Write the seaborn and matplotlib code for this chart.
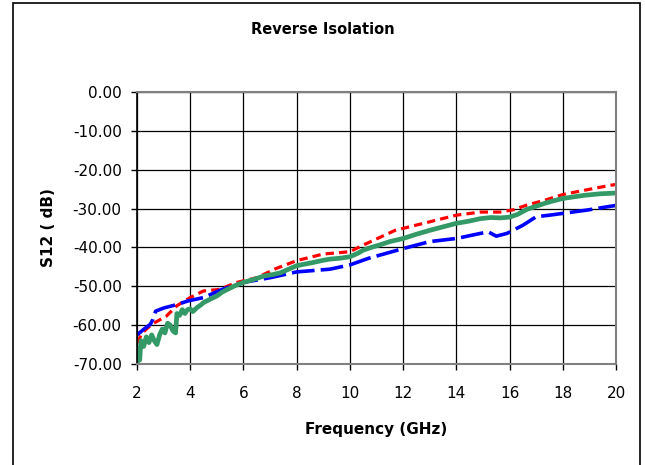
import numpy as np
import pandas as pd
import matplotlib
matplotlib.use("Agg")
import matplotlib.pyplot as plt
import seaborn as sns
from matplotlib.patches import Rectangle

# ── data ────────────────────────────────────────────────────
freq_red = [2.0, 2.2, 2.55, 3.1, 3.5, 4.0, 4.5, 5.1, 5.75, 6.5, 7.2, 8.0, 9.0,
            10.0, 10.5, 11.7, 13.0, 14.0, 14.9, 15.65, 16.15, 16.65, 17.3,
            18.0, 18.8, 19.8, 20.0]
s12_red = [-64.6, -62.0, -59.8, -57.7, -55.0, -52.9, -51.2, -50.8, -49.0,
           -47.8, -45.5, -43.4, -41.7, -41.1, -39.4, -35.6, -33.4, -31.7,
           -30.9, -30.9, -30.3, -29.1, -27.9, -26.4, -25.3, -24.0, -23.8]

freq_blue = [2.0, 2.25, 2.5, 2.6, 2.7, 3.0, 3.5, 3.9, 4.5, 5.2, 6.0, 7.0, 8.0,
             9.25, 10.0, 10.7, 12.0, 13.0, 14.0, 14.9, 15.2, 15.5, 15.9,
             16.5, 17.0, 17.5, 18.15, 18.9, 19.8, 20.0]
s12_blue = [-62.5, -61.1, -59.8, -58.5, -56.4, -55.6, -54.7, -53.8, -52.9,
            -50.8, -49.0, -47.8, -46.3, -45.6, -44.5, -42.8, -40.3, -38.5,
            -37.7, -36.4, -36.0, -37.1, -36.4, -34.3, -32.1, -31.7, -31.1,
            -30.4, -29.4, -29.2]

freq_green = [2.0, 2.05, 2.1, 2.15, 2.25, 2.35, 2.45, 2.55, 2.65, 2.75, 2.85,
              2.95, 3.05, 3.15, 3.25, 3.35, 3.45, 3.5, 3.6, 3.7, 3.8, 3.9,
              4.0, 4.1, 4.25, 4.4, 4.5, 4.7, 5.0, 5.2, 5.4, 5.7, 6.0, 6.4,
              6.8, 7.1, 7.4, 7.7, 8.0, 8.3, 8.6, 9.0, 9.25, 9.6, 10.0, 10.3,
              10.5, 10.8, 11.1, 11.5, 12.0, 12.5, 13.0, 13.5, 14.0, 14.5,
              14.9, 15.3, 15.65, 16.0, 16.3, 16.65, 17.0, 17.3, 17.6, 18.0,
              18.4, 18.8, 19.4, 20.0]
s12_green = [-70.0, -66.0, -69.0, -64.0, -65.5, -63.0, -64.5, -62.5, -64.0,
             -65.0, -62.5, -61.0, -62.0, -59.5, -60.0, -61.5, -62.0, -57.0,
             -57.5, -56.0, -57.0, -56.0, -55.8, -56.5, -55.5, -54.8, -54.2,
             -53.5, -52.5, -51.5, -50.8, -49.8, -49.0, -48.2, -47.3, -47.0,
             -46.5, -45.6, -44.7, -44.3, -43.9, -43.3, -43.0, -42.8, -42.4,
             -41.5, -40.7, -40.0, -39.4, -38.5, -37.7, -36.6, -35.6, -34.7,
             -33.8, -33.2, -32.6, -32.3, -32.4, -32.2, -31.5, -30.2, -29.4,
             -28.7, -28.1, -27.4, -27.0, -26.6, -26.2, -26.0]

xticks = [2, 4, 6, 8, 10, 12, 14, 16, 18, 20]
yticks = [0, -10, -20, -30, -40, -50, -60, -70]

# ── style ───────────────────────────────────────────────────
sns.set_style("white")
plt.rcParams["font.family"] = ["DejaVu Sans"]
plt.rcParams["text.color"] = "black"
plt.rcParams["axes.labelcolor"] = "black"
plt.rcParams["xtick.color"] = "black"
plt.rcParams["ytick.color"] = "black"

fig = plt.figure(figsize=(6.45, 4.65), dpi=100)
ax = fig.add_axes([137 / 645, 1 - 364 / 465, 479 / 645, 272 / 465])

sns.lineplot(x=freq_red, y=s12_red, ax=ax, color="#FF0000", linewidth=2.3,
             linestyle=(0, (2.6, 1.6)), sort=False)
sns.lineplot(x=freq_blue, y=s12_blue, ax=ax, color="#0000FF", linewidth=2.6,
             linestyle=(0, (6.3, 1.7)), sort=False)
sns.lineplot(x=freq_green, y=s12_green, ax=ax, color="#339966", linewidth=3.4,
             sort=False)

ax.set_xlim(2, 20)
ax.set_ylim(-70, 0)
ax.set_xticks(xticks)
ax.set_yticks(yticks)
ax.set_yticklabels([f"{v:.2f}" for v in yticks])
ax.grid(True, color="black", linewidth=0.9)
ax.tick_params(axis="both", direction="out", length=4, width=1,
               color="black", labelcolor="black", labelsize=11,
               bottom=True, left=True)
ax.tick_params(axis="y", pad=7)
ax.tick_params(axis="x", pad=12)

for side in ["top", "right", "bottom"]:
    ax.spines[side].set_color("#808080")
    ax.spines[side].set_linewidth(1.5)
ax.spines["left"].set_color("black")
ax.spines["left"].set_linewidth(1.2)

ax.set_xlabel("Frequency (GHz)", fontsize=11, fontweight="bold", labelpad=15,
              color="black")
ax.set_ylabel("S12 ( dB)", fontsize=11, fontweight="bold", labelpad=12,
              color="black")
fig.text(0.5, 1 - 29 / 465, "Reverse Isolation", ha="center", va="center",
         fontsize=10.5, fontweight="bold", color="black")

# outer chart frame
fig.patches.append(Rectangle((13 / 645, -0.05), 627 / 645, 1.05 - 3 / 465,
                             transform=fig.transFigure, fill=False,
                             edgecolor="black", linewidth=1.2))

fig.savefig("out.png", dpi=100)
